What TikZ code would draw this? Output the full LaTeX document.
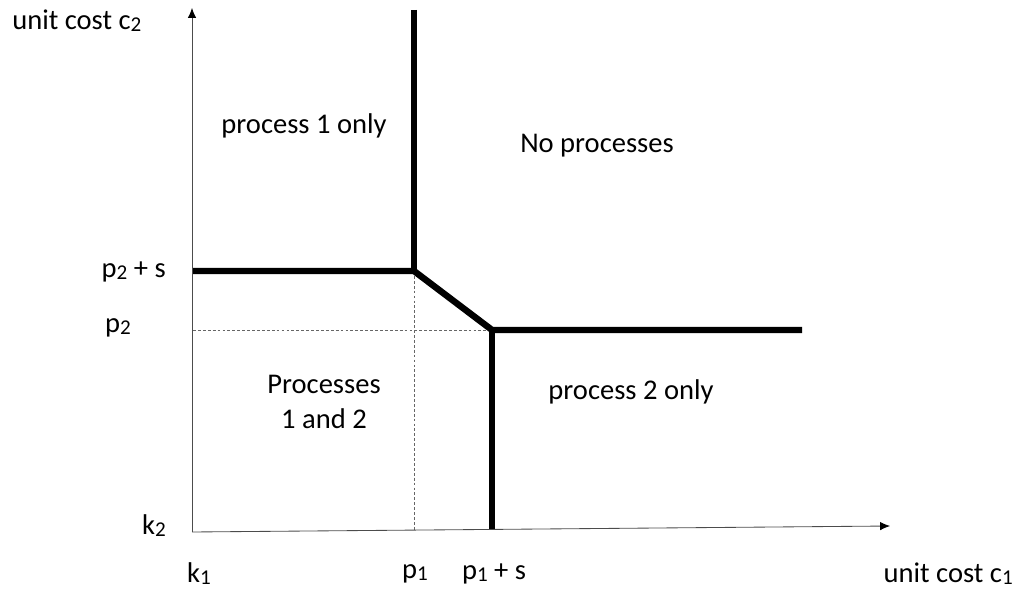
\documentclass[tikz,border=0pt]{standalone}
\usepackage{fontspec}
\setmainfont{Carlito}
\usetikzlibrary{arrows.meta}
\newcommand{\sbs}[1]{\raisebox{-0.15ex}{\fontsize{15}{16}\selectfont #1}}
\begin{document}
\begin{tikzpicture}[x=0.025cm,y=-0.025cm,
  axis/.style={draw=black!70,line width=0.6pt,-{Latex[length=7pt,width=6pt,black]}},
  bound/.style={line width=4.6pt,line join=miter},
  guide/.style={draw=black!60,line width=0.5pt,dash pattern=on 2pt off 1.5pt},
  lbl/.style={font=\fontsize{20.3}{24}\selectfont,inner sep=0pt},
  region/.style={font=\fontsize{20.3}{25}\selectfont,inner sep=0pt,align=center}]
\useasboundingbox (0,0) rectangle (1018,589);
% key points
\coordinate (O) at (192,532);
\coordinate (ytop) at (192,8);
\coordinate (xend) at (890,526);
\coordinate (A) at (414,271);
\coordinate (Atop) at (414,10);
\coordinate (Aleft) at (193,271);
\coordinate (B) at (492,330);
\coordinate (Bright) at (802,330);
\coordinate (Bbot) at (492,529);
\coordinate (p2left) at (193,330);
\coordinate (p1bot) at (414,530);
% guides
\draw[guide] (p2left) -- (B);
\draw[guide] (A) -- (p1bot);
% axes
\draw[axis] (O) -- (ytop);
\draw[axis] (O) -- (xend);
% boundaries
\draw[bound] (Atop) -- (A);
\draw[bound] (Aleft) -- (A) -- (B) -- (Bright);
\draw[bound] (B) -- (Bbot);
% labels
\node[lbl,anchor=west] (yl) at (12,21) {unit cost c\sbs{2}};
\node[lbl,anchor=east] (p2s) at (166,272) {p\sbs{2} + s};
\node[lbl,anchor=east] (p2) at (131,328) {p\sbs{2}};
\node[lbl,anchor=east] (k2) at (166,526) {k\sbs{2}};
\node[lbl] (k1) at (199,574) {k\sbs{1}};
\node[lbl] (p1) at (415,574) {p\sbs{1}};
\node[lbl] (p1s) at (494,574) {p\sbs{1} + s};
\node[lbl,anchor=east] (xl) at (1013,574) {unit cost c\sbs{1}};
\node[region] (r1) at (304,126) {process 1 only};
\node[region] (r0) at (597,146) {No processes};
\node[region] (r12) at (324,402) {Processes\\1 and 2};
\node[region] (r2) at (631,392) {process 2 only};
\end{tikzpicture}
\end{document}
